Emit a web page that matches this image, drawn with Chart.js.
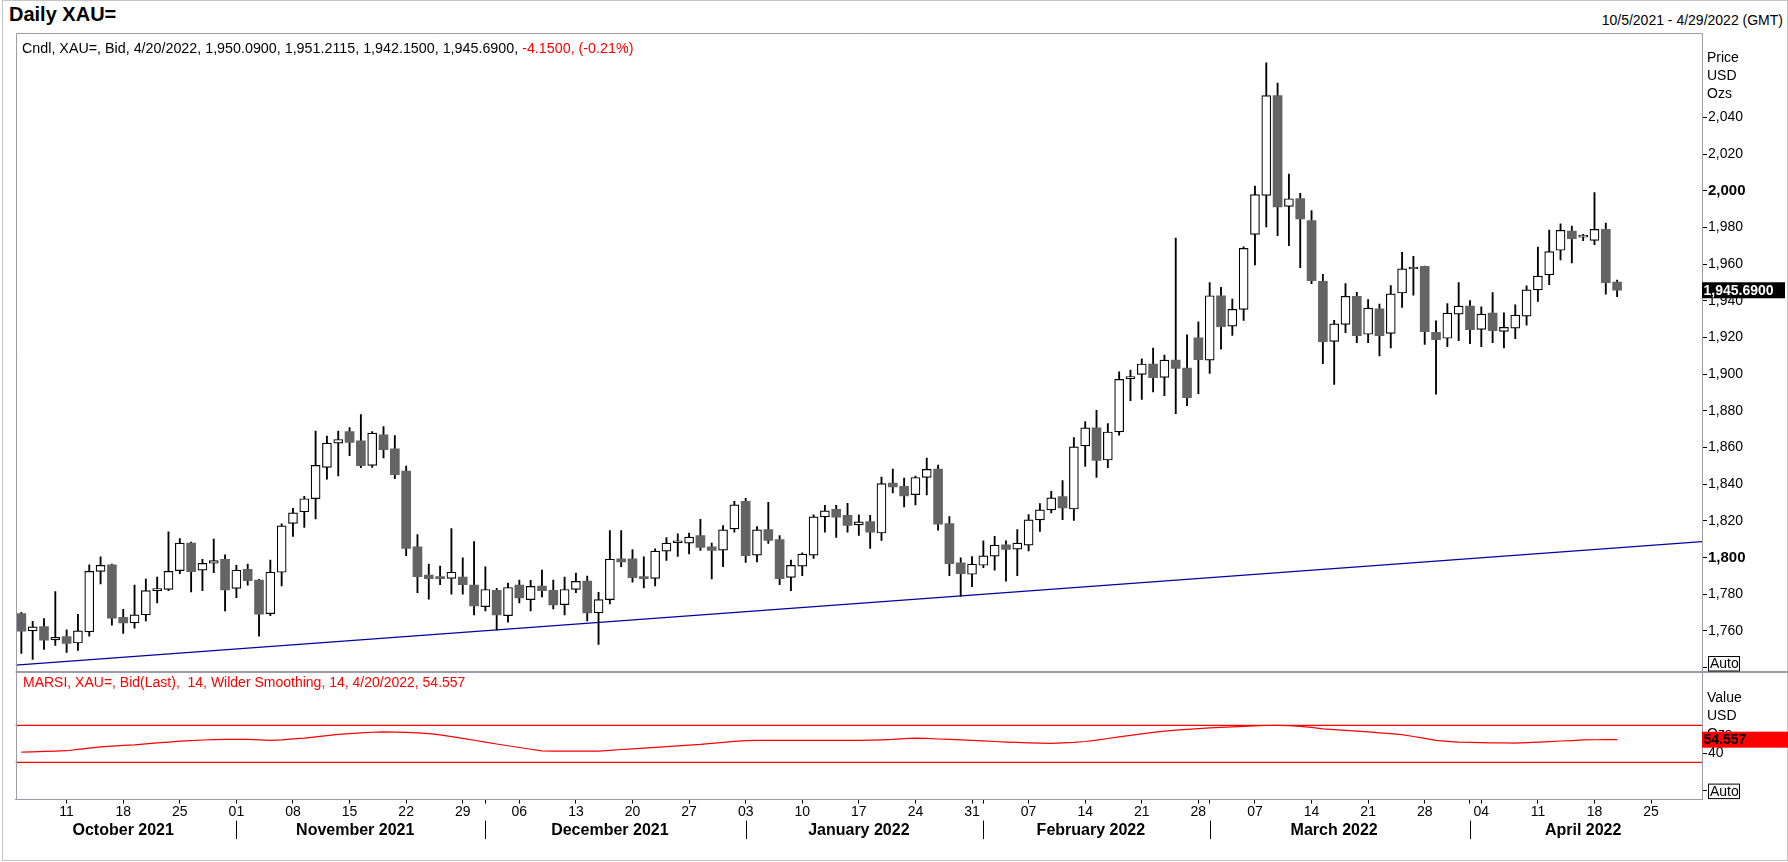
<!DOCTYPE html>
<html>
<head>
<meta charset="utf-8">
<script src="https://cdn.jsdelivr.net/npm/chart.js@4.4.1/dist/chart.umd.min.js"></script>
<style>
html, body { margin: 0; padding: 0; background: #fff; }
body { width: 1788px; height: 862px; position: relative; overflow: hidden;
       font-family: "Liberation Sans", Arial, sans-serif; color: #000; }
.abs { position: absolute; white-space: pre; }
#frame { position: absolute; left: 2px; top: 0; width: 1786px; height: 861px;
         border: 1px solid #c4c4c4; box-sizing: border-box; }
canvas { position: absolute; left: 0; }
</style>
</head>
<body>
<div id="frame"></div>
<div class="abs" style="left:9px;top:3px;font-size:20px;line-height:22px;font-weight:bold">Daily XAU=</div>
<div class="abs" style="right:5px;top:12px;font-size:14px;line-height:16px">10/5/2021 - 4/29/2022 (GMT)</div>
<canvas id="priceChart" width="1788" height="639" style="top:33px"></canvas>
<canvas id="rsiChart" width="1788" height="190" style="top:672px"></canvas>
<div class="abs" style="left:22px;top:40px;font-size:14.3px;line-height:16px">Cndl, XAU=, Bid, 4/20/2022, 1,950.0900, 1,951.2115, 1,942.1500, 1,945.6900, <span style="color:#ff0000">-4.1500, (-0.21%)</span></div>
<div class="abs" style="left:23px;top:674px;font-size:14px;line-height:16px;color:#ff0000">MARSI, XAU=, Bid(Last),  14, Wilder Smoothing, 14, 4/20/2022, 54.557</div>
<script>
// ---- trading days (categories) ----
const monthKeys = ['2021-10', '2021-11', '2021-12', '2022-01', '2022-02', '2022-03', '2022-04'];
const monthNames = ['October 2021', 'November 2021', 'December 2021', 'January 2022', 'February 2022', 'March 2022', 'April 2022'];
const octDays = [5, 6, 7, 8, 11, 12, 13, 14, 15, 18, 19, 20, 21, 22, 25, 26, 27, 28, 29];
const novDays = [1, 2, 3, 4, 5, 8, 9, 10, 11, 12, 15, 16, 17, 18, 19, 22, 23, 24, 25, 26, 29, 30];
const decDays = [1, 2, 3, 6, 7, 8, 9, 10, 13, 14, 15, 16, 17, 20, 21, 22, 23, 24, 27, 28, 29, 30, 31];
const janDays = [3, 4, 5, 6, 7, 10, 11, 12, 13, 14, 17, 18, 19, 20, 21, 24, 25, 26, 27, 28, 31];
const febDays = [1, 2, 3, 4, 7, 8, 9, 10, 11, 14, 15, 16, 17, 18, 21, 22, 23, 24, 25, 28];
const marDays = [1, 2, 3, 4, 7, 8, 9, 10, 11, 14, 15, 16, 17, 18, 21, 22, 23, 24, 25, 28, 29, 30, 31];
const aprDays = [1, 4, 5, 6, 7, 8, 11, 12, 13, 14, 15, 18, 19, 20, 21, 22, 25, 26, 27, 28, 29];

// ---- daily OHLC, 10/5/2021 .. 4/20/2022 ----
const openPx = [
  1769.3, 1759.9, 1762.3, 1755.0, 1756.8, 1753.3, 1759.4, 1792.4, 1795.9, 1767.3, 1764.3, 1768.7, 1781.9, 1782.5, 1792.8, 1807.8, 1793.0, 1796.8, 1799.0,
  1783.1, 1793.5, 1787.6, 1769.3, 1791.9, 1818.5, 1824.9, 1832.0, 1849.1, 1862.3, 1868.6, 1863.6, 1850.2, 1866.9, 1859.2, 1847.1, 1805.8, 1790.4, 1789.3, 1788.6, 1789.3, 1784.9,
  1773.1, 1782.1, 1768.2, 1784.9, 1777.0, 1784.3, 1782.1, 1774.2, 1782.5, 1787.1, 1769.8, 1777.0, 1799.2, 1799.2, 1789.3, 1788.6, 1803.4, 1808.0, 1807.8, 1811.9, 1805.8, 1804.0, 1815.5,
  1830.6, 1801.2, 1815.2, 1809.7, 1789.1, 1795.2, 1801.2, 1822.1, 1826.2, 1822.9, 1817.7, 1819.6, 1813.3, 1840.5, 1838.8, 1834.2, 1843.6, 1848.2, 1818.5, 1797.0, 1790.8,
  1795.7, 1800.7, 1806.9, 1804.5, 1806.7, 1820.5, 1825.9, 1833.2, 1826.4, 1860.8, 1870.6, 1853.1, 1868.4, 1897.5, 1899.8, 1905.5, 1898.2, 1907.6, 1903.2, 1919.7,
  1907.6, 1942.7, 1926.1, 1935.3, 1976.2, 1997.4, 2051.9, 1991.4, 1995.7, 1983.7, 1950.5, 1917.8, 1927.1, 1942.4, 1921.7, 1935.6, 1922.2, 1944.2, 1957.3, 1958.7, 1922.8, 1919.5, 1932.7,
  1937.1, 1924.4, 1933.2, 1923.3, 1925.0, 1931.6, 1945.9, 1954.1, 1967.5, 1978.0, 1974.7, 1972.9, 1978.9, 1950.09
];
const highPx = [
  1770.0, 1765.1, 1766.7, 1781.4, 1760.5, 1768.9, 1795.9, 1800.3, 1796.4, 1771.7, 1784.9, 1788.2, 1789.3, 1813.9, 1810.2, 1808.4, 1799.0, 1810.0, 1801.4,
  1795.7, 1796.4, 1788.0, 1798.5, 1818.3, 1826.7, 1833.3, 1868.9, 1866.2, 1868.9, 1870.8, 1877.9, 1868.6, 1871.3, 1866.4, 1849.8, 1812.4, 1796.4, 1795.3, 1815.7, 1799.7, 1808.6,
  1794.8, 1783.2, 1786.0, 1787.6, 1787.5, 1793.1, 1787.6, 1789.3, 1791.5, 1789.8, 1781.0, 1814.6, 1814.6, 1804.2, 1800.3, 1804.7, 1810.8, 1812.8, 1813.3, 1820.7, 1807.8, 1817.4, 1830.6,
  1832.2, 1816.8, 1830.0, 1811.9, 1798.6, 1802.5, 1823.2, 1828.4, 1828.4, 1829.5, 1823.2, 1822.9, 1843.8, 1848.2, 1843.2, 1844.3, 1854.2, 1850.4, 1822.3, 1799.7, 1800.5,
  1809.1, 1811.5, 1809.1, 1815.2, 1823.4, 1829.4, 1836.0, 1841.9, 1865.4, 1874.1, 1880.2, 1873.0, 1901.2, 1902.2, 1908.3, 1914.2, 1910.4, 1974.2, 1921.4, 1928.5,
  1949.9, 1947.3, 1940.9, 1969.4, 2002.5, 2069.7, 2058.7, 2009.0, 1998.5, 1989.2, 1954.4, 1929.3, 1949.4, 1944.5, 1940.6, 1938.2, 1948.3, 1966.4, 1964.2, 1958.9, 1929.0, 1938.4, 1949.9,
  1940.0, 1936.7, 1944.4, 1933.4, 1937.8, 1948.1, 1969.2, 1978.5, 1981.9, 1980.7, 1976.2, 1998.9, 1982.4, 1951.2115
];
const lowPx = [
  1747.6, 1744.3, 1749.8, 1752.0, 1748.2, 1749.3, 1757.0, 1785.6, 1763.1, 1758.6, 1761.4, 1765.3, 1775.2, 1781.8, 1791.1, 1781.2, 1781.8, 1791.7, 1770.8,
  1778.1, 1784.9, 1757.0, 1768.2, 1784.5, 1811.5, 1816.4, 1821.0, 1842.7, 1844.5, 1855.5, 1848.9, 1849.1, 1854.2, 1842.9, 1801.0, 1780.7, 1777.2, 1785.1, 1779.9, 1779.9, 1768.6,
  1770.8, 1760.5, 1764.7, 1775.2, 1770.8, 1778.5, 1771.9, 1768.6, 1780.7, 1765.3, 1752.6, 1774.6, 1795.0, 1786.5, 1783.4, 1784.5, 1798.3, 1800.5, 1801.9, 1803.8, 1788.2, 1795.0, 1813.7,
  1797.2, 1797.5, 1807.6, 1785.1, 1781.8, 1790.0, 1799.4, 1813.7, 1810.9, 1813.7, 1812.0, 1804.9, 1809.3, 1835.2, 1827.5, 1828.6, 1834.1, 1814.8, 1790.0, 1778.8, 1784.0,
  1794.4, 1793.1, 1787.1, 1790.0, 1803.5, 1814.2, 1824.2, 1820.6, 1820.2, 1849.6, 1843.6, 1849.0, 1866.6, 1885.5, 1886.2, 1890.3, 1888.2, 1878.4, 1882.8, 1889.3,
  1900.4, 1913.5, 1921.0, 1929.3, 1959.5, 1980.3, 1975.4, 1970.0, 1958.0, 1949.3, 1905.6, 1894.3, 1922.6, 1917.1, 1917.1, 1909.9, 1914.3, 1936.3, 1943.0, 1916.2, 1889.0, 1914.9, 1918.2,
  1916.5, 1914.9, 1917.1, 1914.3, 1919.3, 1926.6, 1939.6, 1948.8, 1962.2, 1960.6, 1972.7, 1970.5, 1943.5, 1942.15
];
const closePx = [
  1759.7, 1762.1, 1754.8, 1756.4, 1753.1, 1759.9, 1792.4, 1795.7, 1766.9, 1764.2, 1768.7, 1781.9, 1782.3, 1792.4, 1807.8, 1792.2, 1796.8, 1798.3, 1782.3,
  1793.0, 1787.3, 1769.1, 1791.9, 1817.2, 1824.3, 1832.0, 1850.2, 1862.3, 1864.3, 1862.7, 1850.0, 1867.8, 1858.8, 1845.1, 1804.9, 1789.5, 1788.4, 1788.4, 1791.9, 1785.1, 1773.5,
  1782.5, 1768.6, 1783.6, 1777.9, 1784.2, 1781.8, 1774.1, 1782.5, 1786.9, 1769.7, 1777.0, 1799.0, 1797.5, 1788.9, 1788.4, 1803.4, 1807.8, 1808.4, 1811.1, 1805.4, 1803.8, 1815.0, 1828.7,
  1801.0, 1815.0, 1809.3, 1788.4, 1795.7, 1801.8, 1822.1, 1825.4, 1821.9, 1817.5, 1819.4, 1813.7, 1840.3, 1838.5, 1833.5, 1843.6, 1848.0, 1818.1, 1796.6, 1791.1, 1796.3,
  1800.8, 1806.7, 1804.3, 1807.8, 1820.5, 1825.9, 1832.5, 1827.0, 1860.3, 1870.6, 1852.9, 1868.4, 1897.1, 1897.8, 1905.5, 1898.0, 1907.6, 1903.0, 1887.1, 1907.9,
  1942.7, 1925.9, 1935.3, 1968.5, 1997.9, 2051.9, 1991.2, 1995.6, 1984.6, 1950.9, 1917.6, 1927.4, 1942.4, 1920.9, 1936.0, 1920.9, 1943.7, 1957.4, 1957.6, 1923.1, 1918.7, 1933.2, 1937.1,
  1924.2, 1932.7, 1923.7, 1925.5, 1932.1, 1945.9, 1953.4, 1966.8, 1978.4, 1973.8, 1975.1, 1978.9, 1949.84, 1945.69
];

// ---- MA of RSI (14, Wilder) ----
const rsiVals = [
  41.1, 41.4, 41.8, 42.2, 42.6, 44.0, 45.5, 46.8, 47.5, 48.3, 49.0, 50.0, 51.0, 52.0, 52.9, 53.6, 54.2, 54.7, 54.8,
  54.8, 54.8, 54.3, 53.8, 54.4, 55.4, 56.3, 57.6, 58.9, 60.3, 61.1, 61.9, 62.6, 62.9, 62.8, 62.4, 62.0, 61.0, 59.8, 57.9, 55.9, 53.9,
  51.9, 49.9, 48.0, 46.1, 44.2, 42.4, 42.2, 42.2, 42.2, 42.2, 42.2, 43.0, 43.9, 44.7, 45.4, 46.3, 47.1, 47.9, 48.7, 49.4, 50.5, 51.6, 52.7,
  53.6, 53.7, 53.7, 53.7, 53.7, 53.7, 53.7, 53.7, 53.7, 53.7, 53.7, 54.0, 54.4, 54.8, 55.6, 56.3, 55.9, 55.3, 54.8, 54.3, 53.7,
  53.2, 52.6, 52.0, 51.6, 51.2, 50.8, 50.5, 51.0, 51.6, 52.6, 54.0, 55.8, 57.6, 59.2, 60.8, 62.4, 63.8, 64.8, 65.7, 66.6,
  67.4, 67.9, 68.4, 68.9, 69.4, 69.9, 70.0, 69.6, 68.9, 67.9, 66.3, 65.5, 64.6, 63.8, 62.9, 62.0, 61.0, 60.0, 58.0, 56.0, 53.8, 52.8, 51.9,
  51.6, 51.4, 51.2, 51.0, 50.8, 51.3, 51.9, 52.5, 53.1, 53.6, 54.3, 54.5, 54.6, 54.557
];
const rsiLevels = [70, 30];

// ---- trend line (category index, price) ----
const trendX = [-0.5, 148.5];
const trendY = [1741.2, 1808.6];

// ---- axes ----
const priceTicks = [1740, 1760, 1780, 1800, 1820, 1840, 1860, 1880, 1900, 1920, 1940, 1960, 1980, 2000, 2020, 2040];
const priceMin = 1737.5, priceMax = 2086;
const rsiTicks = [0, 40];
const rsiMin = -10.3, rsiMax = 127.8;
const priceUnits = ['Price', 'USD', 'Ozs'];
const rsiUnits = ['Value', 'USD', 'Ozs'];

// ---- look ----
const FONT = '"Liberation Sans", Arial, sans-serif';
const frameColor = '#9c9ca8';
const bearColor = '#646464';
const plotLeft = 15.7;
const axisWidth = 86;

Chart.defaults.font.family = FONT;
Chart.defaults.font.size = 14;
Chart.defaults.color = '#000';

// build the trading-day labels and month spans
const monthDays = [octDays, novDays, decDays, janDays, febDays, marDays, aprDays];
const dateLabels = [], monthStarts = [], monthEnds = [];
monthDays.forEach((days, m) => {
  monthStarts.push(dateLabels.length);
  days.forEach(d => dateLabels.push(monthKeys[m] + '-' + String(d).padStart(2, '0')));
  monthEnds.push(dateLabels.length - 1);
});
const isMonday = i => new Date(dateLabels[i] + 'T00:00:00Z').getUTCDay() === 1;
const tickIdx = new Set(monthStarts.slice(1));
dateLabels.forEach((_, i) => { if (isMonday(i)) tickIdx.add(i); });

const isUp = i => closePx[i] >= openPx[i];
const fmt = (v, d) => v.toLocaleString('en-US', { minimumFractionDigits: d, maximumFractionDigits: d });

function fixAxis(width) {
  return s => { s.width = width; s.paddingTop = 0; s.paddingBottom = 0; };
}

function autoBox(ctx, a) {
  const x = a.right + 6.5, h = 14.5, y = a.bottom - 1 - h;
  ctx.fillStyle = '#fff';
  ctx.fillRect(x, y, 31, h);
  ctx.strokeStyle = '#000';
  ctx.lineWidth = 1;
  ctx.strokeRect(x, y, 31, h);
  ctx.fillStyle = '#000';
  ctx.font = '14px ' + FONT;
  ctx.textBaseline = 'middle';
  ctx.fillText('Auto', x + 1.5, y + h / 2 + 0.5);
}

const pricePane = {
  id: 'pricePane',
  afterDraw(chart) {
    const { ctx, chartArea: a, scales: { y } } = chart;
    ctx.save();
    ctx.strokeStyle = frameColor;
    ctx.lineWidth = 1;
    ctx.beginPath();
    ctx.moveTo(Math.round(a.left) + 0.5, a.bottom);
    ctx.lineTo(Math.round(a.left) + 0.5, 0.5);
    ctx.lineTo(a.right, 0.5);
    ctx.moveTo(a.left, chart.height - 0.5);
    ctx.lineTo(chart.width, chart.height - 0.5);
    ctx.stroke();

    ctx.fillStyle = '#000';
    ctx.font = '14px ' + FONT;
    ctx.textBaseline = 'middle';
    priceUnits.forEach((t, i) => ctx.fillText(t, a.right + 5, 25 + i * 18));

    autoBox(ctx, a);

    const last = closePx[closePx.length - 1];
    const yy = y.getPixelForValue(last);
    ctx.fillStyle = '#000';
    ctx.fillRect(a.right, yy - 8, 83, 16);
    ctx.fillStyle = '#fff';
    ctx.font = 'bold 14px ' + FONT;
    ctx.fillText(fmt(last, 4), a.right + 1.5, yy + 0.5);
    ctx.restore();
  }
};

const rsiPane = {
  id: 'rsiPane',
  beforeDatasetsDraw(chart) {
    const { ctx, chartArea: a, scales: { y } } = chart;
    ctx.save();
    ctx.strokeStyle = '#ff0000';
    ctx.lineWidth = 1.2;
    ctx.beginPath();
    rsiLevels.forEach(v => {
      const yy = y.getPixelForValue(v);
      ctx.moveTo(a.left, yy);
      ctx.lineTo(a.right, yy);
    });
    ctx.stroke();
    ctx.restore();
  },
  afterDraw(chart) {
    const { ctx, chartArea: a, scales: { x, y } } = chart;
    ctx.save();
    ctx.strokeStyle = frameColor;
    ctx.lineWidth = 1;
    ctx.beginPath();
    ctx.moveTo(a.left, 0.5);
    ctx.lineTo(chart.width, 0.5);
    ctx.moveTo(Math.round(a.left) + 0.5, 0);
    ctx.lineTo(Math.round(a.left) + 0.5, a.bottom);
    ctx.stroke();

    ctx.fillStyle = '#000';
    ctx.font = '14px ' + FONT;
    ctx.textBaseline = 'middle';
    rsiUnits.forEach((t, i) => ctx.fillText(t, a.right + 5, 26 + i * 18));

    autoBox(ctx, a);

    const last = rsiVals[rsiVals.length - 1];
    const yy = y.getPixelForValue(last);
    ctx.fillStyle = '#ff0000';
    ctx.fillRect(a.right, yy - 8, chart.width - a.right, 16);
    ctx.fillStyle = '#000';
    ctx.font = 'bold 14px ' + FONT;
    ctx.fillText(fmt(last, 3), a.right + 1.5, yy + 0.5);

    // month captions and separators
    const top = a.bottom + 21;
    ctx.strokeStyle = '#000';
    ctx.beginPath();
    monthStarts.forEach((s, m) => {
      if (m === 0) return;
      const xx = Math.round(x.getPixelForValue(s)) + 0.5;
      ctx.moveTo(xx, top);
      ctx.lineTo(xx, top + 18.5);
    });
    ctx.stroke();
    ctx.font = 'bold 16px ' + FONT;
    ctx.textAlign = 'center';
    monthNames.forEach((name, m) => {
      const cx = (x.getPixelForValue(monthStarts[m]) + x.getPixelForValue(monthEnds[m])) / 2;
      ctx.fillText(name, cx, top + 9.5);
    });
    ctx.restore();
  }
};

new Chart(document.getElementById('priceChart'), {
  type: 'bar',
  data: {
    labels: dateLabels,
    datasets: [
      {
        type: 'line', label: 'Trend', xAxisID: 'xt',
        data: trendX.map((v, i) => ({ x: v, y: trendY[i] })),
        borderColor: '#0000a0', borderWidth: 1.3, pointRadius: 0, order: 3
      },
      {
        label: 'Range', data: lowPx.map((l, i) => [l, highPx[i]]),
        backgroundColor: '#000', borderWidth: 0, barThickness: 1.2, grouped: false, order: 2
      },
      {
        label: 'Body', data: openPx.map((o, i) => [Math.min(o, closePx[i]), Math.max(o, closePx[i])]),
        backgroundColor: c => isUp(c.dataIndex || 0) ? '#fff' : bearColor,
        borderColor: c => isUp(c.dataIndex || 0) ? '#000' : bearColor,
        borderWidth: c => isUp(c.dataIndex || 0) ? 1.2 : 0,
        borderSkipped: false, barThickness: 9, minBarLength: 2, grouped: false, order: 1
      }
    ]
  },
  options: {
    responsive: false, animation: false, devicePixelRatio: 1,
    layout: { padding: { left: plotLeft, right: 0, top: 0, bottom: 0 } },
    plugins: { legend: { display: false }, tooltip: { enabled: false } },
    scales: {
      x: { display: false, offset: true },
      xt: { type: 'linear', display: false, min: trendX[0], max: trendX[1], offset: false },
      y: {
        position: 'right', min: priceMin, max: priceMax,
        afterBuildTicks: s => { s.ticks = priceTicks.map(v => ({ value: v })); },
        afterFit: fixAxis(axisWidth),
        grid: { drawOnChartArea: false, tickLength: 5, tickColor: '#000' },
        border: { color: frameColor },
        ticks: {
          padding: 1, color: '#000',
          font: c => (c.tick && c.tick.value % 200 === 0) ? { size: 15, weight: 'bold' } : { size: 14 },
          callback: v => v === priceTicks[0] ? '' : fmt(v, 0)
        }
      }
    }
  },
  plugins: [pricePane]
});

new Chart(document.getElementById('rsiChart'), {
  type: 'line',
  data: {
    labels: dateLabels,
    datasets: [{ label: 'MARSI', data: rsiVals, borderColor: '#ff0000', borderWidth: 1.2, pointRadius: 0, tension: 0 }]
  },
  options: {
    responsive: false, animation: false, devicePixelRatio: 1,
    layout: { padding: { left: plotLeft, right: 0, top: 0, bottom: 0 } },
    plugins: { legend: { display: false }, tooltip: { enabled: false } },
    scales: {
      x: {
        offset: true,
        afterFit: s => { s.height = 62.4; s.paddingLeft = 0; s.paddingRight = 0; },
        grid: {
          offset: false, drawOnChartArea: false, tickLength: 4,
          tickColor: c => tickIdx.has(c.index) ? '#000' : 'rgba(0,0,0,0)'
        },
        border: { color: frameColor },
        ticks: {
          autoSkip: false, maxRotation: 0, minRotation: 0, padding: 0, color: '#000',
          font: { size: 14 },
          callback: (v, i) => isMonday(i) ? dateLabels[i].slice(8) : ''
        }
      },
      y: {
        position: 'right', min: rsiMin, max: rsiMax,
        afterBuildTicks: s => { s.ticks = rsiTicks.map(v => ({ value: v })); },
        afterFit: fixAxis(axisWidth),
        grid: { drawOnChartArea: false, tickLength: 5, tickColor: '#000' },
        border: { color: frameColor },
        ticks: { padding: 1, color: '#000', font: { size: 14 }, callback: v => v === 0 ? '' : String(v) }
      }
    }
  },
  plugins: [rsiPane]
});
</script>
</body>
</html>
